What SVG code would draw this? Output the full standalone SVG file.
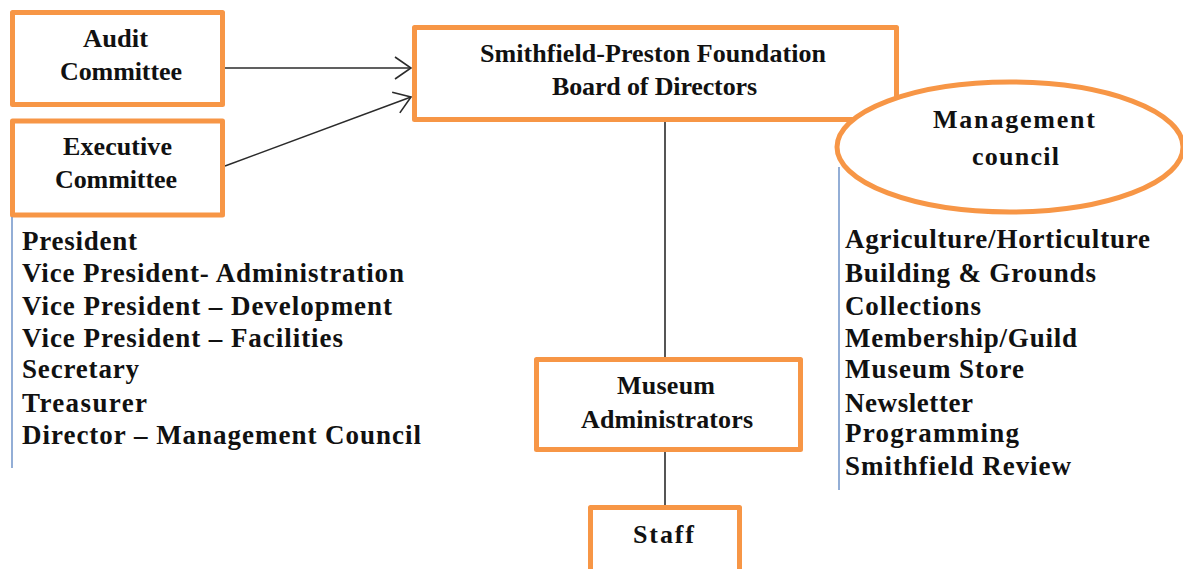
<svg xmlns="http://www.w3.org/2000/svg" width="1183" height="569" viewBox="0 0 1183 569">
<style>
.box{fill:#fff;stroke:#F79646;stroke-width:5;stroke-linejoin:round}
.t{font-family:"Liberation Serif","Times New Roman",serif;font-weight:bold;fill:#111;font-size:27px}
.bt{font-family:"Liberation Serif","Times New Roman",serif;font-weight:bold;fill:#111;font-size:26px}
.conn{stroke:#2b2b2b;stroke-width:1.6;fill:none}
.side{stroke:#6F93C8;stroke-width:1.5}
</style>
<defs>
<marker id="arr" viewBox="0 0 18 24" refX="17" refY="12" markerWidth="18" markerHeight="24" markerUnits="userSpaceOnUse" orient="auto">
<path d="M1,1 L17,12 L1,23" fill="none" stroke="#2b2b2b" stroke-width="1.6"/>
</marker>
</defs>
<g id="connectors">
<line class="conn" x1="225" y1="68" x2="411" y2="68" marker-end="url(#arr)"/>
<line class="conn" x1="225" y1="166" x2="411" y2="97" marker-end="url(#arr)"/>
<line class="conn" x1="665" y1="121" x2="665" y2="358"/>
<line class="conn" x1="665" y1="451" x2="665" y2="506"/>
</g>
<g id="audit">
<rect class="box" x="12.5" y="12.5" width="210" height="92"/>
<text class="bt" x="83" y="47" textLength="65" lengthAdjust="spacingAndGlyphs">Audit</text>
<text class="bt" x="60" y="80" textLength="122" lengthAdjust="spacing">Committee</text>
</g>
<g id="executive">
<rect class="box" x="12.5" y="121" width="210" height="94"/>
<text class="bt" x="63" y="155" textLength="109" lengthAdjust="spacing">Executive</text>
<text class="bt" x="55" y="188" textLength="122" lengthAdjust="spacing">Committee</text>
</g>
<g id="board">
<rect class="box" x="414.5" y="27.5" width="482" height="92"/>
<text class="bt" x="480" y="62" textLength="346" lengthAdjust="spacing">Smithfield-Preston Foundation</text>
<text class="bt" x="552" y="95" textLength="205" lengthAdjust="spacing">Board of Directors</text>
</g>
<g id="management">
<ellipse cx="1010" cy="147" rx="173" ry="65" fill="#fff" stroke="#F79646" stroke-width="5"/>
<text class="bt" x="933" y="128" textLength="162" lengthAdjust="spacing">Management</text>
<text class="bt" x="972" y="165" textLength="87" lengthAdjust="spacing">council</text>
</g>
<g id="museum-admin">
<rect class="box" x="536.5" y="359.5" width="264" height="90"/>
<text class="bt" x="617" y="394" textLength="98" lengthAdjust="spacing">Museum</text>
<text class="bt" x="581" y="428" textLength="172" lengthAdjust="spacing">Administrators</text>
</g>
<g id="staff">
<rect class="box" x="590.5" y="507.5" width="149" height="80"/>
<text class="bt" x="633" y="543" textLength="61" lengthAdjust="spacing">Staff</text>
</g>
<g id="officers">
<line class="side" x1="12" y1="217" x2="12" y2="468"/>
<text class="t" x="22" y="250" textLength="115" lengthAdjust="spacing">President</text>
<text class="t" x="22" y="282" textLength="382" lengthAdjust="spacing">Vice President- Administration</text>
<text class="t" x="22" y="315" textLength="370" lengthAdjust="spacing">Vice President – Development</text>
<text class="t" x="22" y="347" textLength="321" lengthAdjust="spacing">Vice President – Facilities</text>
<text class="t" x="22" y="378" textLength="117" lengthAdjust="spacing">Secretary</text>
<text class="t" x="22" y="412" textLength="125" lengthAdjust="spacing">Treasurer</text>
<text class="t" x="22" y="444" textLength="399" lengthAdjust="spacing">Director – Management Council</text>
</g>
<g id="committees">
<line class="side" x1="839" y1="167" x2="839" y2="490"/>
<text class="t" x="845" y="248" textLength="305" lengthAdjust="spacing">Agriculture/Horticulture</text>
<text class="t" x="845" y="282" textLength="251" lengthAdjust="spacing">Building &amp; Grounds</text>
<text class="t" x="845" y="315" textLength="136" lengthAdjust="spacing">Collections</text>
<text class="t" x="845" y="347" textLength="232" lengthAdjust="spacing">Membership/Guild</text>
<text class="t" x="845" y="378" textLength="179" lengthAdjust="spacing">Museum Store</text>
<text class="t" x="845" y="412" textLength="128" lengthAdjust="spacing">Newsletter</text>
<text class="t" x="845" y="442" textLength="174" lengthAdjust="spacing">Programming</text>
<text class="t" x="845" y="475" textLength="226" lengthAdjust="spacing">Smithfield Review</text>
</g>
</svg>
